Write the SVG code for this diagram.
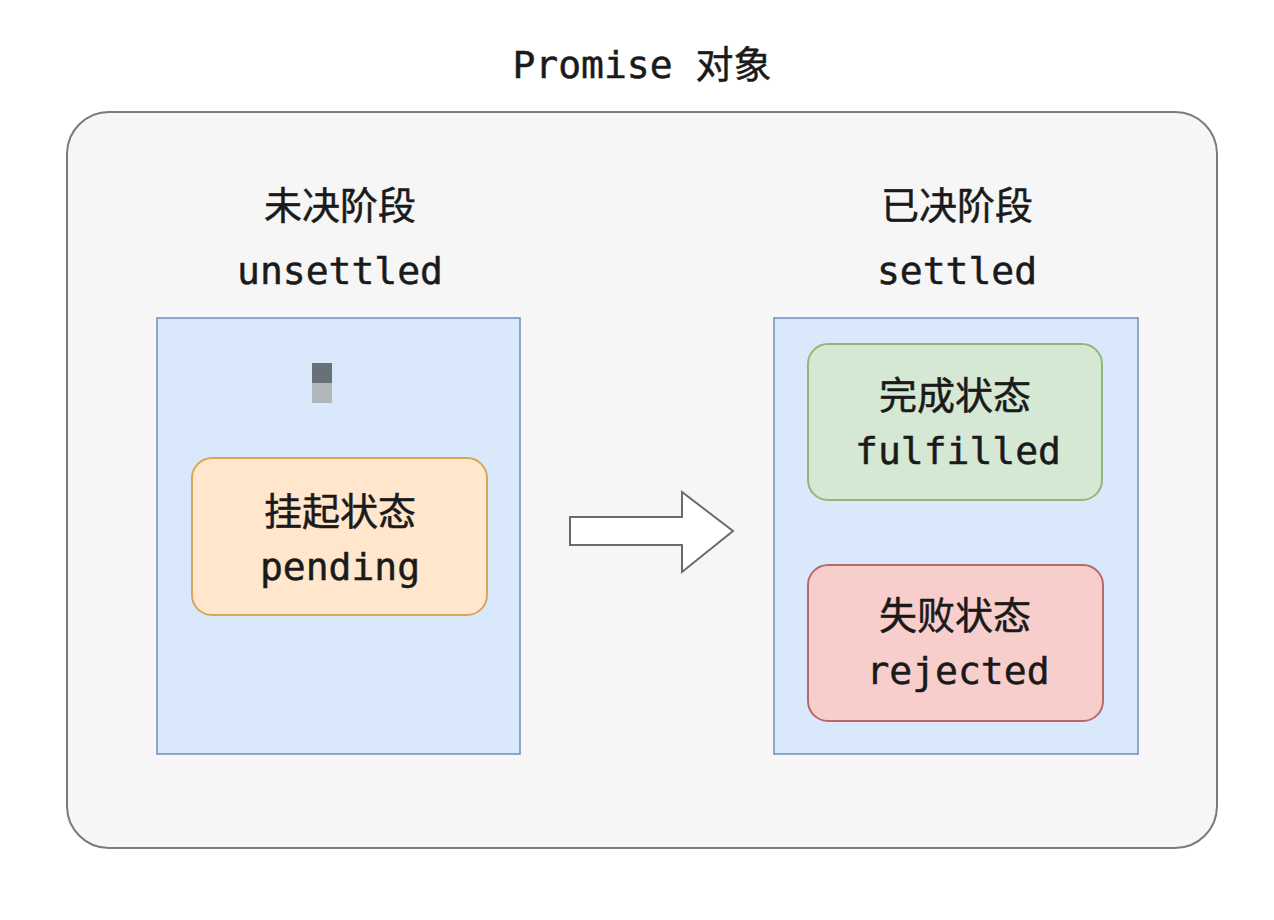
<svg xmlns="http://www.w3.org/2000/svg" width="1274" height="920" viewBox="0 0 1274 920">
<style>
.t{font-family:"DejaVu Sans Mono","Noto Sans CJK SC",monospace;font-size:38px;fill:#1a1a1a;stroke:#1a1a1a;stroke-width:0.5;text-anchor:middle}
.stage{fill:#dae8fc;stroke:#6c8ebf;stroke-width:1.5}
.st{stroke-width:2}
</style>
<rect width="1274" height="920" fill="#ffffff"/>
<g id="title"><text class="t" x="642" y="78">Promise 对象</text></g>
<g id="container">
<rect x="67" y="112" width="1150" height="736" rx="42" ry="42" fill="#f6f6f6" stroke="#7a7a7a" stroke-width="2"/>
</g>
<g id="unsettled">
<text class="t" x="340" y="219">未决阶段</text>
<text class="t" x="340" y="284">unsettled</text>
<rect class="stage" x="157" y="318" width="363" height="436"/>
<rect x="312" y="363" width="20" height="20" fill="#687078"/>
<rect x="312" y="383" width="20" height="20" fill="#b1b6bb"/>
</g>
<g id="pending">
<rect class="st" x="192" y="458" width="295" height="157" rx="20" ry="20" fill="#ffe6cc" stroke="#d6a75a"/>
<text class="t" x="340" y="525">挂起状态</text>
<text class="t" x="340" y="580">pending</text>
</g>
<g id="settled">
<text class="t" x="957" y="219">已决阶段</text>
<text class="t" x="957" y="284">settled</text>
<rect class="stage" x="774" y="318" width="364" height="436"/>
</g>
<g id="fulfilled">
<rect class="st" x="808" y="344" width="294" height="156" rx="20" ry="20" fill="#d5e8d4" stroke="#8fb878"/>
<text class="t" x="955" y="409">完成状态</text>
<text class="t" x="958" y="464">fulfilled</text>
</g>
<g id="rejected">
<rect class="st" x="808" y="565" width="295" height="156" rx="20" ry="20" fill="#f8cecc" stroke="#b86a66"/>
<text class="t" x="955" y="629">失败状态</text>
<text class="t" x="958" y="684">rejected</text>
</g>
<g id="connectors">
<polygon points="570,517 682,517 682,492 733,531 682,572 682,545 570,545" fill="#ffffff" stroke="#6b6b6b" stroke-width="2" stroke-linejoin="miter"/>
</g>
</svg>
